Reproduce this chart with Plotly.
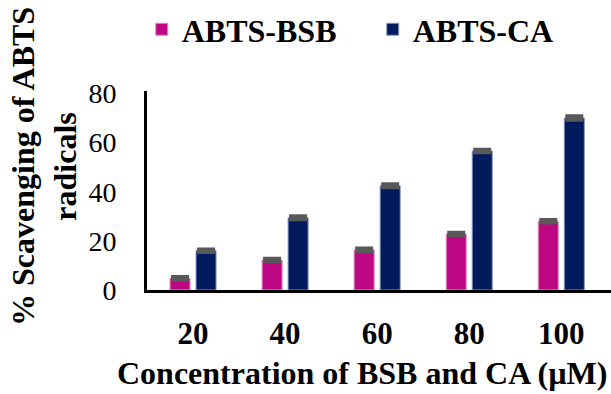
import plotly.graph_objects as go

# Concentrations (µM) and % scavenging of ABTS radicals
concentrations = ["20", "40", "60", "80", "100"]
abts_bsb = [4.8, 12.2, 16.3, 22.8, 28.0]
abts_ca = [16.0, 29.4, 42.4, 56.6, 70.0]
bsb_err = [0.3, 0.3, 0.4, 0.3, 0.3]
ca_err = [0.3, 0.4, 0.4, 0.3, 0.5]
y_ticks = [0, 20, 40, 60, 80]

SERIF = "Liberation Serif"
MAGENTA = "#BE0782"
NAVY = "#001A5E"
ERR_GRAY = "#595959"

fig = go.Figure()
fig.add_trace(go.Bar(
    name="ABTS-BSB", x=concentrations, y=abts_bsb,
    marker=dict(color=MAGENTA, line=dict(color="#E58CC4", width=1)),
    error_y=dict(type="data", array=bsb_err, color=ERR_GRAY, thickness=5, width=9),
))
fig.add_trace(go.Bar(
    name="ABTS-CA", x=concentrations, y=abts_ca,
    marker=dict(color=NAVY, line=dict(color="#8895C0", width=1)),
    error_y=dict(type="data", array=ca_err, color=ERR_GRAY, thickness=5, width=9),
))

fig.update_layout(
    width=611, height=394,
    margin=dict(l=147, r=0, t=91, b=104, autoexpand=False),
    paper_bgcolor="white", plot_bgcolor="white",
    barmode="group", bargap=0.435, bargroupgap=0.23,
    font=dict(family=SERIF, color="black"),
    showlegend=True,
    legend=dict(
        orientation="h", x=0.232, xanchor="left", y=0.995, yanchor="top",
        yref="container", xref="container",
        font=dict(family=SERIF, size=32, color="black", weight="bold"),
        entrywidth=186, entrywidthmode="pixels",
        bgcolor="rgba(0,0,0,0)",
    ),
    xaxis=dict(
        range=[-0.5, 4.54], showline=True, linecolor="black", linewidth=3,
        showgrid=False, zeroline=False, ticks="",
        tickfont=dict(family=SERIF, size=31, color="black", weight="bold"),
        ticklabelstandoff=14,
    ),
    yaxis=dict(
        range=[0, 81], tickvals=y_ticks, showline=True, linecolor="black",
        linewidth=3, showgrid=False, zeroline=False, ticks="",
        tickfont=dict(family=SERIF, size=28, color="black"),
        ticklabelstandoff=22,
    ),
    annotations=[
        dict(text="% Scavenging of ABTS<br>radicals", textangle=-90,
             xref="paper", yref="paper", x=-0.222, y=0.623,
             xanchor="center", yanchor="middle", showarrow=False,
             font=dict(family=SERIF, size=32, color="black", weight="bold")),
        dict(text="Concentration of BSB and CA (µM)",
             xref="paper", yref="paper", x=0.463, y=-0.417,
             xanchor="center", yanchor="middle", showarrow=False,
             font=dict(family=SERIF, size=32, color="black", weight="bold")),
    ],
)

fig.write_html("out.html")
